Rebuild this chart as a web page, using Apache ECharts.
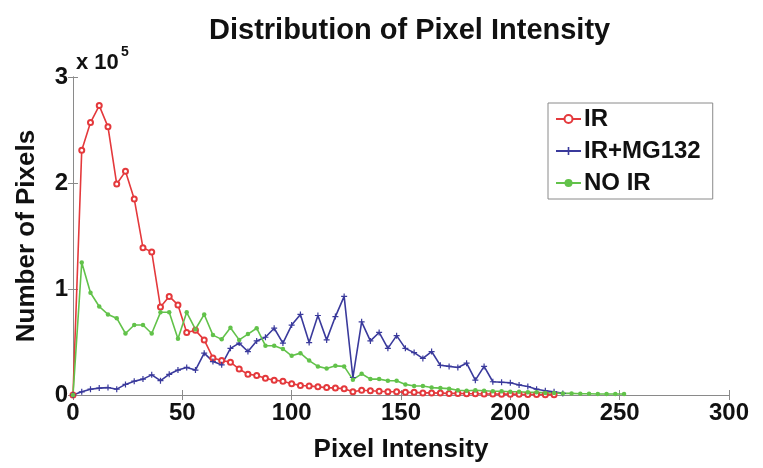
<!DOCTYPE html>
<html>
<head>
<meta charset="utf-8">
<script src="https://cdn.jsdelivr.net/npm/echarts@6/dist/echarts.min.js"></script>
<style>
html,body{margin:0;padding:0;background:#fff;}
#chart{width:763px;height:468px;}
</style>
</head>
<body>
<div id="chart"></div>
<script>
// Pixel intensity bins (x values)
var intensity = [0,4,8,12,16,20,24,28,32,36,40,44,48,52,56,60,64,68,72,76,80,84,88,92,96,100,104,108,112,116,120,124,128,132,136,140,144,148,152,156,160,164,168,172,176,180,184,188,192,196,200,204,208,212,216,220,224,228,232,236,240,244,248,252];

// Number of pixels per bin
var irCounts = [0,231000,257000,273000,253000,199000,211000,185000,139000,135000,83000,93000,85000,59000,61000,52000,35000,32500,31000,24500,19500,18500,15700,14000,13000,10700,9000,8600,7700,7000,6500,6000,3000,4500,4000,3500,3000,3000,2500,2500,2000,2000,1800,1500,1500,1200,1200,1000,1000,800,800,600,500,400,300,200];

var irMgCounts = [0,3000,5500,6500,7000,5500,10000,13000,15000,19000,13500,19500,23500,26000,23500,39500,31500,28500,44000,49000,41000,51000,54500,63000,49000,66000,76000,49500,75000,52000,74000,93000,16500,69000,51000,59000,44000,56000,44000,40000,34500,41000,28000,27000,26000,30000,14000,27000,12500,12000,11500,9500,8000,5500,4000,3000,1500];

var noIrCounts = [0,125000,96500,83500,76000,72500,58000,66000,66000,58000,78000,78000,53000,78000,62000,76000,56500,52500,63500,52000,57500,63000,46500,46500,43500,37000,39500,32500,27000,25000,27500,27000,14500,20000,15000,15000,13500,13500,10000,8500,8500,7000,6500,6000,4500,4000,4500,4000,3500,3500,3000,3000,2500,2500,2000,2000,1500,1500,1200,1200,1000,1000,1000,1000];

var seriesNames = ['IR', 'IR+MG132', 'NO IR'];
var xTicks = [0, 50, 100, 150, 200, 250, 300];
var yTicks = [0, 100000, 200000, 300000];

function pairs(xs, ys) {
  var out = [];
  for (var i = 0; i < ys.length; i++) out.push([xs[i], ys[i]]);
  return out;
}

var FONT = '"Liberation Sans", Arial, sans-serif';
var frameColor = '#8a8a8a';
var plusPath = 'path://M4,0H6V4H10V6H6V10H4V6H0V4H4Z';

var chart = echarts.init(document.getElementById('chart'), null, {renderer: 'canvas'});
chart.setOption({
  animation: false,
  backgroundColor: '#ffffff',
  title: [
    {text: 'Distribution of Pixel Intensity', left: 204, top: 11,
     textStyle: {fontFamily: FONT, fontWeight: 'bold', fontSize: 29, color: '#111'}},
    {text: 'x 10', left: 76, top: 52, padding: 0,
     textStyle: {fontFamily: FONT, fontWeight: 'bold', fontSize: 22, color: '#111'}},
    {text: '5', left: 121, top: 45, padding: 0,
     textStyle: {fontFamily: FONT, fontWeight: 'bold', fontSize: 14, color: '#111'}}
  ],
  grid: {left: 73, right: 34, top: 77, bottom: 70, containLabel: false},
  legend: {
    orient: 'vertical',
    left: 548, top: 103,
    padding: [4, 12, 4, 7],
    itemGap: 8,
    itemWidth: 25, itemHeight: 10,
    backgroundColor: '#fff',
    borderColor: '#8a8a8a', borderWidth: 1,
    textStyle: {fontFamily: FONT, fontWeight: 'bold', fontSize: 24, color: '#111', padding: [0,0,0,-2]},
    data: seriesNames
  },
  xAxis: [{
    type: 'value', min: xTicks[0], max: xTicks[xTicks.length-1], interval: 50,
    name: 'Pixel Intensity', nameLocation: 'middle', nameGap: 42,
    nameTextStyle: {fontFamily: FONT, fontWeight: 'bold', fontSize: 26, color: '#111'},
    axisLine: {show: true, lineStyle: {color: frameColor, width: 1}},
    axisTick: {show: true, inside: true, length: 5, lineStyle: {color: frameColor}},
    axisLabel: {margin: 6, fontFamily: FONT, fontWeight: 'bold', fontSize: 24, color: '#111'},
    splitLine: {show: false}
  }, {
    type: 'value', position: 'top', min: xTicks[0], max: xTicks[xTicks.length-1], interval: 50,
    axisLine: {show: true, lineStyle: {color: frameColor, width: 1}},
    axisTick: {show: true, inside: true, length: 5, lineStyle: {color: frameColor}},
    axisLabel: {show: false}, splitLine: {show: false}
  }],
  yAxis: [{
    type: 'value', min: yTicks[0], max: yTicks[yTicks.length-1], interval: 100000,
    name: 'Number of Pixels', nameLocation: 'middle', nameGap: 33, nameRotate: 90,
    nameTextStyle: {fontFamily: FONT, fontWeight: 'bold', fontSize: 26, color: '#111'},
    axisLine: {show: true, lineStyle: {color: frameColor, width: 1}},
    axisTick: {show: true, inside: true, length: 5, lineStyle: {color: frameColor}},
    axisLabel: {margin: 5, fontFamily: FONT, fontWeight: 'bold', fontSize: 24, color: '#111',
      formatter: function (v) { return String(Math.round(v / 100000)); }},
    splitLine: {show: false}
  }, {
    type: 'value', position: 'right', min: yTicks[0], max: yTicks[yTicks.length-1], interval: 100000,
    axisLine: {show: true, lineStyle: {color: frameColor, width: 1}},
    axisTick: {show: true, inside: true, length: 5, lineStyle: {color: frameColor}},
    axisLabel: {show: false}, splitLine: {show: false}
  }],
  series: [{
    name: seriesNames[0], type: 'line', data: pairs(intensity, irCounts),
    symbol: 'emptyCircle', symbolSize: 5, showAllSymbol: true,
    lineStyle: {color: '#e4393c', width: 1.6},
    itemStyle: {color: '#e4393c', borderWidth: 1.5}
  }, {
    name: seriesNames[1], type: 'line', data: pairs(intensity, irMgCounts),
    symbol: plusPath, symbolSize: 6, showAllSymbol: true,
    lineStyle: {color: '#3a3a9c', width: 1.6},
    itemStyle: {color: '#3a3a9c'}
  }, {
    name: seriesNames[2], type: 'line', data: pairs(intensity, noIrCounts),
    symbol: 'circle', symbolSize: 4.5, showAllSymbol: true,
    lineStyle: {color: '#62c24a', width: 1.6},
    itemStyle: {color: '#62c24a'}
  }]
});
</script>
</body>
</html>
